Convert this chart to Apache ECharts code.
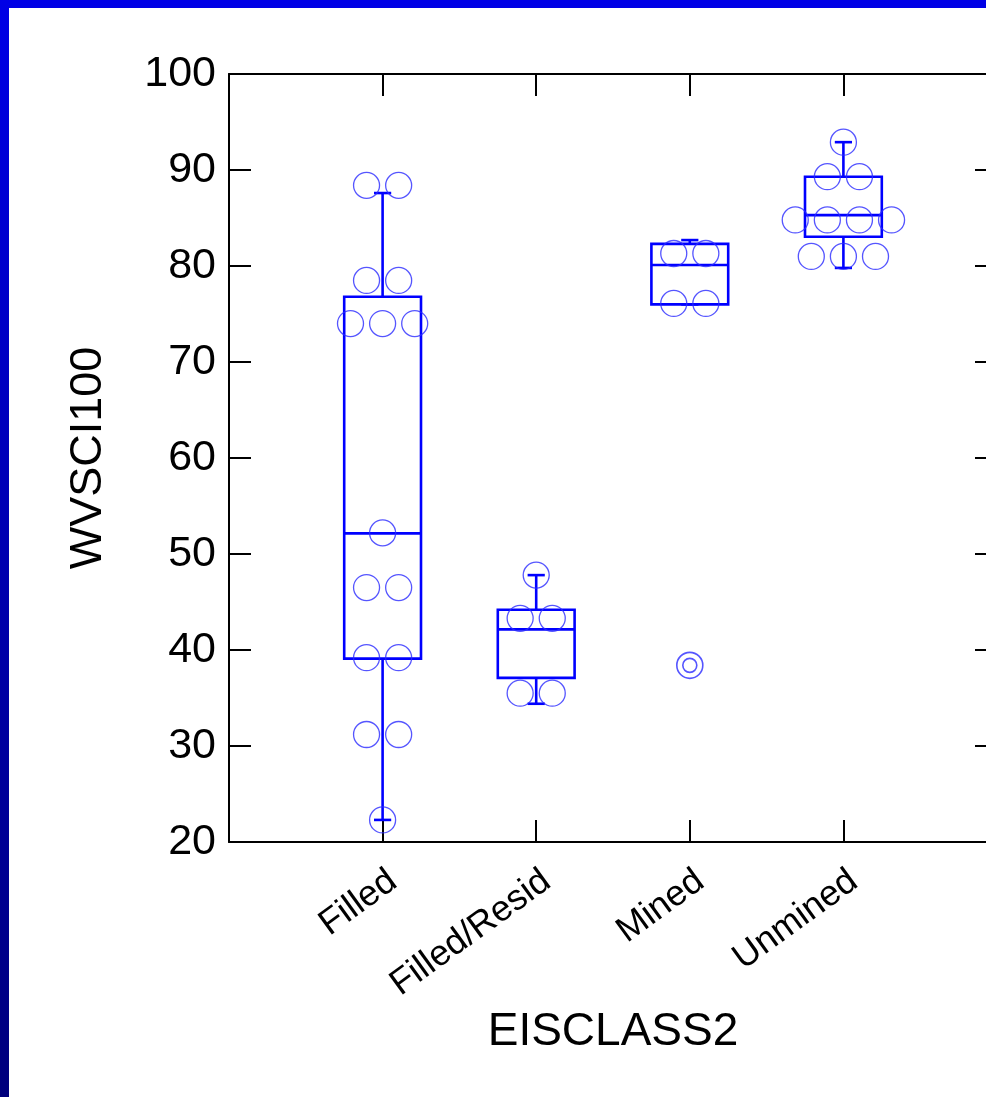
<!DOCTYPE html>
<html>
<head>
<meta charset="utf-8">
<script src="https://cdn.jsdelivr.net/npm/echarts@6/dist/echarts.min.js"></script>
<style>
  html, body { margin: 0; padding: 0; }
  body { width: 986px; height: 1097px; background: linear-gradient(#0000e6, #00007c); position: relative; overflow: hidden; }
  #paper { position: absolute; left: 9px; top: 8px; right: 0; bottom: 0; background: #ffffff; }
  #chart { position: absolute; left: 0; top: 0; width: 1020px; height: 1097px; }
</style>
</head>
<body>
<div id="paper"></div>
<div id="chart"></div>
<script>
// ---- data ----
const categories = ['Filled', 'Filled/Resid', 'Mined', 'Unmined'];
const yTicks = [20, 30, 40, 50, 60, 70, 80, 90, 100];

// individual observations per category
const pointsFilled      = [88.4, 88.4, 78.5, 78.5, 74.0, 74.0, 74.0, 52.2, 46.5, 46.5, 39.2, 39.2, 31.2, 31.2, 22.3];
const pointsFilledResid = [47.8, 43.3, 43.3, 35.5, 35.5];
const pointsMined       = [81.3, 81.3, 76.1, 76.1];
const pointsUnmined     = [92.9, 89.3, 89.3, 84.8, 84.8, 84.8, 84.8, 81.0, 81.0, 81.0];
// outliers: [category index (1-based), value]
const outliers = [[3, 38.4]];

// box statistics: [lower whisker, Q1, median, Q3, upper whisker]
const boxFilled      = [22.3, 39.1, 52.15, 76.8, 87.6];
const boxFilledResid = [34.4, 37.1, 42.15, 44.2, 47.8];
const boxMined       = [76.0, 76.0, 80.1, 82.3, 82.7];
const boxUnmined     = [79.8, 83.05, 85.3, 89.3, 92.9];

// ---- build series data ----
const allPoints = [pointsFilled, pointsFilledResid, pointsMined, pointsUnmined];
const allBoxes = [boxFilled, boxFilledResid, boxMined, boxUnmined];
const DODGE = 0.209; // horizontal spacing between coincident points, in category units

const scatterData = [];
allPoints.forEach((vals, ci) => {
  const groups = {};
  vals.forEach(v => { (groups[v] = groups[v] || []).push(v); });
  Object.keys(groups).forEach(k => {
    const g = groups[k];
    const n = g.length;
    g.forEach((v, j) => {
      scatterData.push([ci + 1 + (j - (n - 1) / 2) * DODGE, v]);
    });
  });
});
const boxData = allBoxes.map((b, i) => [i + 1].concat(b));

const FONT = 'Liberation Sans, Arial, Helvetica, sans-serif';
const BLUE = '#0000ff';

const chart = echarts.init(document.getElementById('chart'), null, { renderer: 'canvas' });
chart.setOption({
  backgroundColor: 'transparent',
  animation: false,
  grid: { left: 229, top: 74, width: 768, height: 768, containLabel: false },
  xAxis: [
    {
      type: 'value', position: 'bottom', min: 0, max: 5, interval: 1,
      name: 'EISCLASS2', nameLocation: 'middle', nameGap: 165,
      nameTextStyle: { fontFamily: FONT, fontSize: 46, color: '#000' },
      axisLine: { show: true, onZero: false, lineStyle: { color: '#000', width: 2 } },
      axisTick: { show: true, inside: true, length: 22, lineStyle: { color: '#000', width: 2 } },
      splitLine: { show: false },
      axisLabel: {
        rotate: 36, margin: 21, fontFamily: FONT, fontSize: 36, color: '#000',
        verticalAlign: 'top',
        showMinLabel: true, showMaxLabel: true,
        formatter: v => categories[v - 1] || ''
      }
    },
    {
      type: 'value', position: 'top', min: 0, max: 5, interval: 1,
      axisLine: { show: true, onZero: false, lineStyle: { color: '#000', width: 2 } },
      axisTick: { show: true, inside: true, length: 22, lineStyle: { color: '#000', width: 2 } },
      splitLine: { show: false },
      axisLabel: { show: false }
    }
  ],
  yAxis: [
    {
      type: 'value', position: 'left', min: yTicks[0], max: yTicks[yTicks.length - 1], interval: 10,
      name: 'WVSCI100', nameLocation: 'middle', nameGap: 118, nameRotate: 90,
      nameTextStyle: { fontFamily: FONT, fontSize: 45, color: '#000' },
      axisLine: { show: true, onZero: false, lineStyle: { color: '#000', width: 2 } },
      axisTick: { show: true, inside: true, length: 22, lineStyle: { color: '#000', width: 2 } },
      splitLine: { show: false },
      axisLabel: { margin: 13, fontFamily: FONT, fontSize: 43, color: '#000' }
    },
    {
      type: 'value', position: 'right', min: yTicks[0], max: yTicks[yTicks.length - 1], interval: 10,
      axisLine: { show: true, onZero: false, lineStyle: { color: '#000', width: 2 } },
      axisTick: { show: true, inside: true, length: 22, lineStyle: { color: '#000', width: 2 } },
      splitLine: { show: false },
      axisLabel: { show: false }
    }
  ],
  series: [
    {
      type: 'custom',
      xAxisIndex: 0, yAxisIndex: 0,
      data: boxData,
      encode: { x: 0, y: [1, 2, 3, 4, 5] },
      z: 2,
      renderItem: function (params, api) {
        const x = api.value(0);
        const lo = api.value(1), q1 = api.value(2), med = api.value(3), q3 = api.value(4), hi = api.value(5);
        const band = api.size([1, 0])[0];
        const half = band * 0.25;
        const cap = band * 0.056;
        const cx = api.coord([x, med])[0];
        const y = v => api.coord([x, v])[1];
        const style = { stroke: BLUE, lineWidth: 2.6, fill: null };
        const line = (x1, y1, x2, y2) => ({ type: 'line', shape: { x1, y1, x2, y2 }, style });
        return {
          type: 'group',
          children: [
            { type: 'rect', shape: { x: cx - half, y: y(q3), width: 2 * half, height: y(q1) - y(q3) }, style },
            line(cx - half, y(med), cx + half, y(med)),
            line(cx, y(q3), cx, y(hi)),
            line(cx - cap, y(hi), cx + cap, y(hi)),
            line(cx, y(q1), cx, y(lo)),
            line(cx - cap, y(lo), cx + cap, y(lo))
          ]
        };
      }
    },
    {
      type: 'scatter',
      xAxisIndex: 0, yAxisIndex: 0,
      data: scatterData,
      symbol: 'circle', symbolSize: 26,
      itemStyle: { color: 'rgba(0,0,0,0)', borderColor: '#2a2aff', borderWidth: 1.3 },
      z: 3
    },
    {
      type: 'scatter',
      xAxisIndex: 0, yAxisIndex: 0,
      data: outliers,
      symbol: 'circle', symbolSize: 26,
      itemStyle: { color: 'rgba(0,0,0,0)', borderColor: '#2a2aff', borderWidth: 1.6 },
      z: 3
    },
    {
      type: 'scatter',
      xAxisIndex: 0, yAxisIndex: 0,
      data: outliers,
      symbol: 'circle', symbolSize: 14,
      itemStyle: { color: 'rgba(0,0,0,0)', borderColor: '#2a2aff', borderWidth: 1.6 },
      z: 3
    }
  ]
});
</script>
</body>
</html>
